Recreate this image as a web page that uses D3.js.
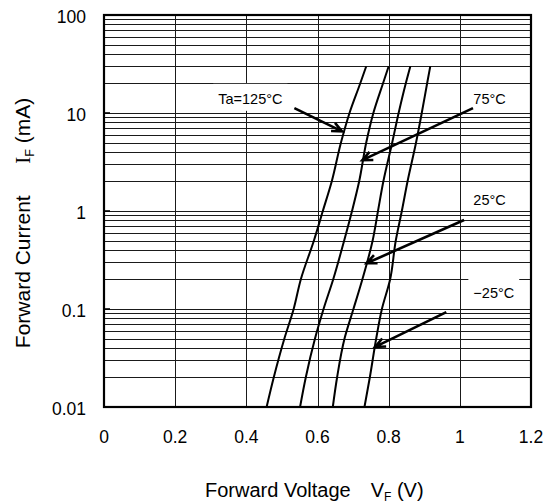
<!DOCTYPE html>
<html>
<head>
<meta charset="utf-8">
<script src="https://cdn.jsdelivr.net/npm/d3@7"></script>
<style>
  body { margin: 0; background: #fff; }
  text { font-family: "Liberation Sans", Arial, sans-serif; fill: #000; }
</style>
</head>
<body>
<svg id="chart" width="556" height="504"></svg>
<script>
// forward voltage vs forward current, 4 ambient temperatures
var currents = [0.01, 0.02, 0.05, 0.1, 0.2, 0.5, 1, 2, 5, 10, 20, 30]
var vf125 = [0.457, 0.477, 0.507, 0.533, 0.553, 0.59, 0.615, 0.64, 0.666, 0.69, 0.72, 0.737]
var vf75 = [0.551, 0.567, 0.593, 0.617, 0.644, 0.675, 0.697, 0.717, 0.737, 0.757, 0.784, 0.80]
var vf25 = [0.643, 0.655, 0.676, 0.701, 0.726, 0.755, 0.77, 0.785, 0.81, 0.828, 0.848, 0.861]
var vfm25 = [0.732, 0.747, 0.765, 0.781, 0.804, 0.82, 0.837, 0.853, 0.877, 0.893, 0.908, 0.917]

var vTicks = [0, 0.2, 0.4, 0.6, 0.8, 1, 1.2]
var vTickLabels = ["0", "0.2", "0.4", "0.6", "0.8", "1", "1.2"]
var iTicks = [0.01, 0.1, 1, 10, 100]
var iTickLabels = ["0.01", "0.1", "1", "10", "100"]

// labels: text, V, mA (baseline-left)
var labelText = ["Ta=125°C", "75°C", "25°C", "−25°C"]
var labelV = [0.321, 1.038, 1.038, 1.038]
var labelI = [12.4, 12.4, 1.15, 0.129]
var labelBoxed = [true, false, false, true]

// arrows: from (V, mA) to (V, mA)
var arrowFrom = [[0.535, 11.2], [1.037, 11.2], [1.012, 0.81], [0.962, 0.093]]
var arrowTo = [[0.669, 6.5], [0.726, 3.3], [0.738, 0.293], [0.762, 0.041]]

var svg = d3.select("#chart")
var plotL = 104, plotR = 531, plotT = 15, plotB = 407

var x = d3.scaleLinear().domain([0, 1.2]).range([plotL, plotR])
var y = d3.scaleLog().domain([0.01, 100]).range([plotB, plotT])

// grid
var grid = svg.append("g").attr("stroke", "#1a1a1a").attr("stroke-width", 1)
grid.selectAll("line.h")
    .data(y.ticks())
    .enter()
    .append("line")
    .attr("class", "h")
    .attr("x1", plotL).attr("x2", plotR)
    .attr("y1", function(d) { return Math.round(y(d)) + 0.5 })
    .attr("y2", function(d) { return Math.round(y(d)) + 0.5 })
grid.selectAll("line.v")
    .data(vTicks)
    .enter()
    .append("line")
    .attr("class", "v")
    .attr("y1", plotT).attr("y2", plotB)
    .attr("x1", function(d) { return Math.round(x(d)) + 0.5 })
    .attr("x2", function(d) { return Math.round(x(d)) + 0.5 })

// labels, some with a white box that hides the grid
var labels = svg.append("g")
var labelNodes = labels.selectAll("text")
    .data(labelText)
    .enter()
    .append("text")
    .attr("x", function(d, i) { return x(labelV[i]) })
    .attr("y", function(d, i) { return y(labelI[i]) })
    .attr("font-size", 14.5)
    .text(function(d) { return d })
labelNodes.each(function(d, i) {
  if (!labelBoxed[i]) return
  var b = this.getBBox()
  labels.insert("rect", "text")
      .attr("x", b.x - 5).attr("y", b.y - 7)
      .attr("width", b.width + 10).attr("height", b.height + 11)
      .attr("fill", "#fff")
})

// frame
svg.append("rect")
    .attr("x", plotL).attr("y", plotT)
    .attr("width", plotR - plotL).attr("height", plotB - plotT)
    .attr("fill", "none").attr("stroke", "#000").attr("stroke-width", 2.2)

// short inner ticks at decades on the left axis
svg.selectAll("line.dt")
    .data(iTicks.slice(1, 4))
    .enter()
    .append("line")
    .attr("class", "dt")
    .attr("x1", plotL).attr("x2", plotL + 6)
    .attr("y1", function(d) { return y(d) }).attr("y2", function(d) { return y(d) })
    .attr("stroke", "#000").attr("stroke-width", 1.6)

// curves
var line = d3.line()
    .x(function(d) { return x(d[0]) })
    .y(function(d) { return y(d[1]) })
    .curve(d3.curveMonotoneY)
var series = [vf125, vf75, vf25, vfm25]
svg.selectAll("path.curve")
    .data(series)
    .enter()
    .append("path")
    .attr("class", "curve")
    .attr("d", function(s) { return line(s.map(function(v, i) { return [v, currents[i]] })) })
    .attr("fill", "none").attr("stroke", "#000").attr("stroke-width", 2)

// arrows
arrowFrom.forEach(function(f, i) {
  var t = arrowTo[i]
  var x1 = x(f[0]), y1 = y(f[1]), x2 = x(t[0]), y2 = y(t[1])
  var a = Math.atan2(y2 - y1, x2 - x1)
  var len = 11, spread = 0.42
  var p = "M" + x1 + "," + y1 + "L" + x2 + "," + y2 +
    "M" + (x2 - len * Math.cos(a - spread)) + "," + (y2 - len * Math.sin(a - spread)) +
    "L" + x2 + "," + y2 +
    "L" + (x2 - len * Math.cos(a + spread)) + "," + (y2 - len * Math.sin(a + spread))
  svg.append("path").attr("d", p)
      .attr("fill", "none").attr("stroke", "#000").attr("stroke-width", 2.6)
      .attr("stroke-linejoin", "miter")
})

// tick labels
svg.selectAll("text.xt")
    .data(vTicks)
    .enter()
    .append("text")
    .attr("class", "xt")
    .attr("x", function(d) { return x(d) })
    .attr("y", 443)
    .attr("text-anchor", "middle")
    .attr("font-size", 17.5)
    .text(function(d, i) { return vTickLabels[i] })
svg.selectAll("text.yt")
    .data(iTicks)
    .enter()
    .append("text")
    .attr("class", "yt")
    .attr("x", 86)
    .attr("y", function(d) { return y(d) + 8 })
    .attr("text-anchor", "end")
    .attr("font-size", 17.5)
    .text(function(d, i) { return iTickLabels[i] })

// axis titles
var xt = svg.append("text").attr("x", 205).attr("y", 497).attr("font-size", 20)
xt.append("tspan").text("Forward Voltage\u2003V")
xt.append("tspan").attr("font-size", 12).attr("dy", 4).text("F")
xt.append("tspan").attr("dy", -4).text(" (V)")

var yt = svg.append("text")
    .attr("transform", "translate(30,223) rotate(-90)")
    .attr("text-anchor", "middle").attr("font-size", 21)
yt.append("tspan").text("Forward Current\u2003\u2002")
yt.append("tspan").attr("font-family", "Liberation Serif").text("I")
yt.append("tspan").attr("font-size", 12.5).attr("dy", 4).text("F")
yt.append("tspan").attr("dy", -4).text(" (mA)")
</script>
</body>
</html>
